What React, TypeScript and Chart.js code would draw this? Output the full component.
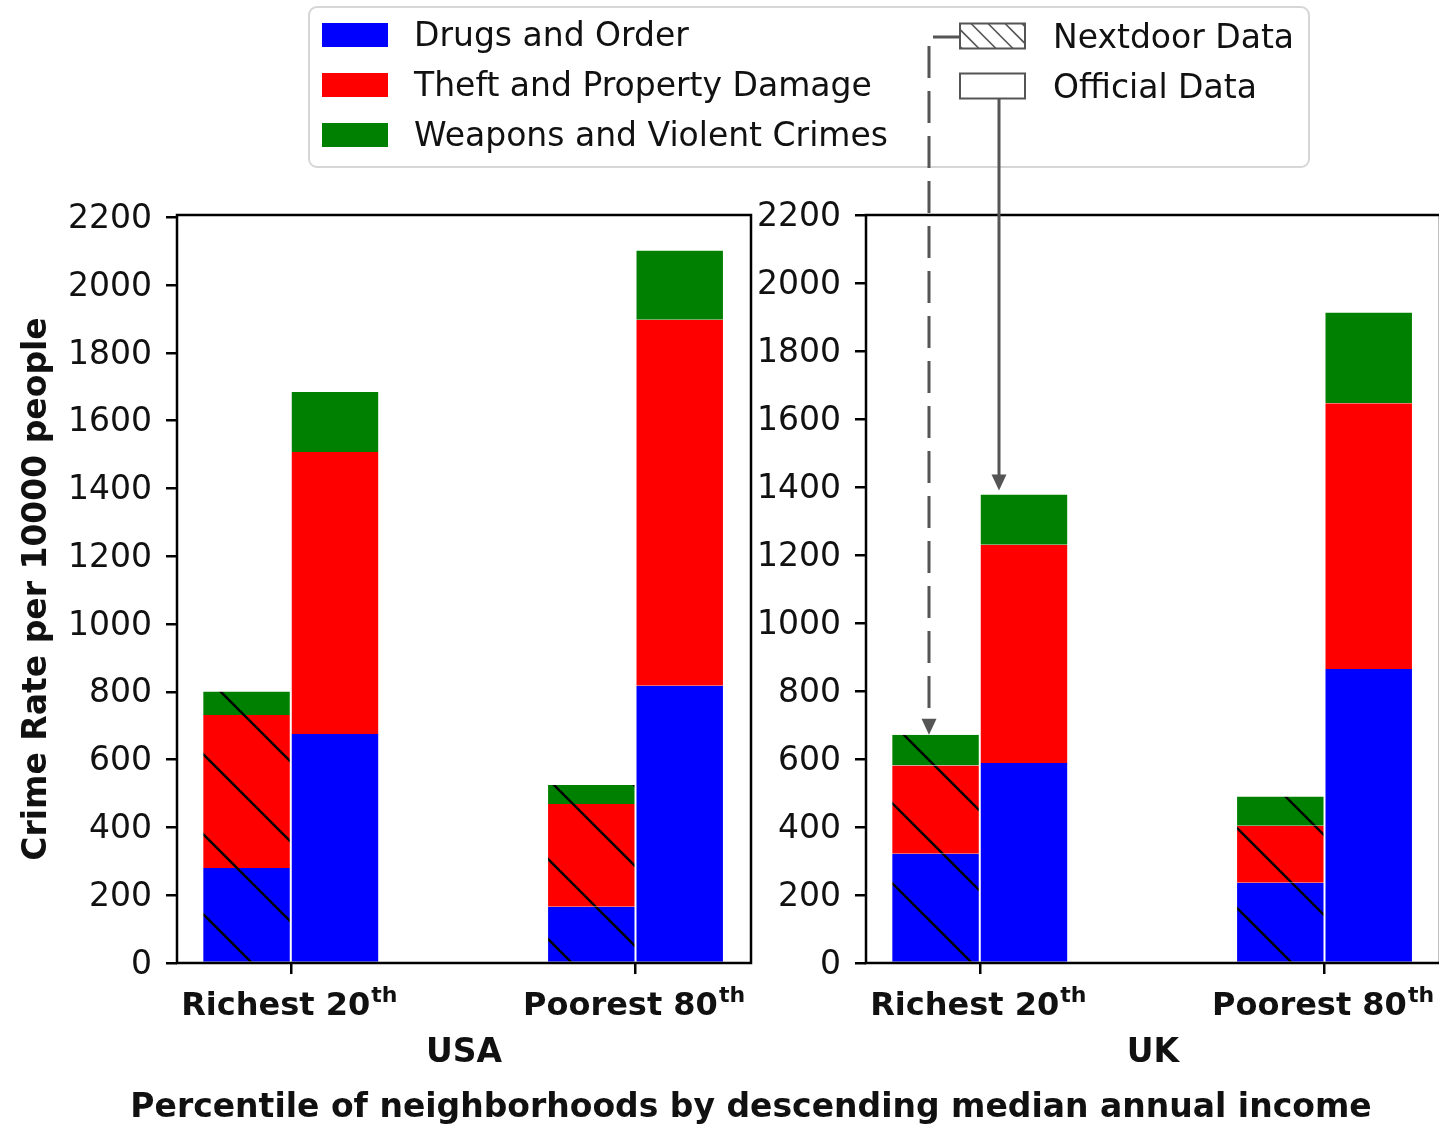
import React, { useEffect, useRef } from 'react';
import { Chart, registerables } from 'chart.js';

Chart.register(...registerables);

// ---------- data ----------
const categories = ['Richest 20', 'Poorest 80'];
const categorySup = ['th', 'th'];
const xTickValues = [0, 1];
const yTickValues = [0, 200, 400, 600, 800, 1000, 1200, 1400, 1600, 1800, 2000, 2200];
const seriesNames = ['Drugs and Order', 'Theft and Property Damage', 'Weapons and Violent Crimes'];
const seriesColors = ['#0000ff', '#ff0000', '#008000'];
const sourceNames = ['Nextdoor Data', 'Official Data'];
const panelNames = ['USA', 'UK'];
const yTitle = 'Crime Rate per 10000 people';
const xTitle = 'Percentile of neighborhoods by descending median annual income';

const usaNextdoorDrugs = [280, 166];
const usaNextdoorTheft = [452, 303];
const usaNextdoorWeapons = [69, 56];
const usaOfficialDrugs = [676, 818];
const usaOfficialTheft = [832, 1080];
const usaOfficialWeapons = [177, 204];

const ukNextdoorDrugs = [321, 236];
const ukNextdoorTheft = [260, 168];
const ukNextdoorWeapons = [90, 86];
const ukOfficialDrugs = [588, 865];
const ukOfficialTheft = [642, 781];
const ukOfficialWeapons = [148, 267];

const ukYMax = 2200;

// ---------- helpers ----------
const FONT = "'DejaVu Sans', sans-serif";
const TEXT = '#111';

function hatchPattern(ctx: CanvasRenderingContext2D, color: string): CanvasPattern | string {
  const t = document.createElement('canvas');
  t.width = 80;
  t.height = 80;
  const c = t.getContext('2d');
  if (!c) return color;
  c.fillStyle = color;
  c.fillRect(0, 0, 80, 80);
  c.strokeStyle = '#000';
  c.lineWidth = 2.4;
  for (const k of [-2, -1, 0, 1]) {
    c.beginPath();
    c.moveTo(-20, 71 + 80 * k - 20);
    c.lineTo(100, 71 + 80 * k + 100);
    c.stroke();
  }
  return ctx.createPattern(t, 'repeat') || color;
}

function totals(parts: number[][], i: number) {
  return parts.reduce((s, p) => s + p[i], 0);
}

function buildDatasets(ctx: CanvasRenderingContext2D, nd: number[][], off: number[][]) {
  const ds: any[] = [];
  for (let s = 0; s < seriesNames.length; s++) {
    ds.push({
      label: seriesNames[s] + ' / ' + sourceNames[0],
      stack: 'nextdoor',
      data: xTickValues.map((x, i) => ({ x, y: nd[s][i] })),
      backgroundColor: hatchPattern(ctx, seriesColors[s]),
      borderColor: 'rgba(255,255,255,0.9)',
      borderWidth: { left: 1, right: 1, top: 0, bottom: 0 },
      borderSkipped: false,
    });
    ds.push({
      label: seriesNames[s] + ' / ' + sourceNames[1],
      stack: 'official',
      data: xTickValues.map((x, i) => ({ x, y: off[s][i] })),
      backgroundColor: seriesColors[s],
      borderColor: 'rgba(255,255,255,0.9)',
      borderWidth: { left: 1, right: 1, top: 0, bottom: 0 },
      borderSkipped: false,
    });
  }
  return ds;
}

function drawCommon(chart: any, panel: string) {
  const ctx: CanvasRenderingContext2D = chart.ctx;
  const a = chart.chartArea;
  const xs = chart.scales.x;
  ctx.save();
  // frame
  ctx.strokeStyle = '#000';
  ctx.lineWidth = 2.5;
  ctx.strokeRect(a.left, a.top, a.right - a.left, a.bottom - a.top);
  // x tick labels with superscript
  ctx.fillStyle = TEXT;
  ctx.textBaseline = 'alphabetic';
  ctx.textAlign = 'left';
  xTickValues.forEach((v, i) => {
    const cx = xs.getPixelForValue(v) - 2;
    ctx.font = `bold 32px ${FONT}`;
    const w1 = ctx.measureText(categories[i]).width;
    ctx.font = `bold 22px ${FONT}`;
    const w2 = ctx.measureText(categorySup[i]).width;
    const start = cx - (w1 + w2) / 2;
    ctx.font = `bold 32px ${FONT}`;
    ctx.fillText(categories[i], start, 1015);
    ctx.font = `bold 22px ${FONT}`;
    ctx.fillText(categorySup[i], start + w1 + 1, 1002);
  });
  // panel name
  ctx.font = `bold 33px ${FONT}`;
  ctx.textAlign = 'center';
  ctx.fillText(panel, (a.left + a.right) / 2, 1062);
  ctx.restore();
}

function arrowHead(ctx: CanvasRenderingContext2D, x: number, tipY: number) {
  ctx.beginPath();
  ctx.moveTo(x, tipY);
  ctx.lineTo(x - 7.5, tipY - 16);
  ctx.lineTo(x + 7.5, tipY - 16);
  ctx.closePath();
  ctx.fill();
}

function drawLegendAndArrows(chart: any) {
  const ctx: CanvasRenderingContext2D = chart.ctx;
  const xs = chart.scales.x;
  const ys = chart.scales.y;
  ctx.save();
  // legend frame
  ctx.beginPath();
  (ctx as any).roundRect(309, 7, 1000, 160, 8);
  ctx.fillStyle = 'rgba(255,255,255,0.8)';
  ctx.fill();
  ctx.strokeStyle = '#d6d6d6';
  ctx.lineWidth = 2;
  ctx.stroke();

  ctx.font = `33px ${FONT}`;
  ctx.textBaseline = 'alphabetic';
  ctx.textAlign = 'left';
  seriesNames.forEach((name, i) => {
    const cy = 35 + 50 * i;
    ctx.fillStyle = seriesColors[i];
    ctx.fillRect(322, cy - 12, 66, 24);
    ctx.fillStyle = TEXT;
    ctx.fillText(name, 414, cy + 11);
  });
  // source patches
  const px = 960, pw = 65, ph = 25;
  sourceNames.forEach((name, i) => {
    const py = 23.5 + 50 * i;
    ctx.fillStyle = '#fff';
    ctx.fillRect(px, py, pw, ph);
    if (i === 0) {
      ctx.save();
      ctx.beginPath();
      ctx.rect(px, py, pw, ph);
      ctx.clip();
      ctx.strokeStyle = '#555';
      ctx.lineWidth = 1.6;
      for (let k = -40; k < pw + 10; k += 17) {
        ctx.beginPath();
        ctx.moveTo(px + k, py);
        ctx.lineTo(px + k + ph, py + ph);
        ctx.stroke();
      }
      ctx.restore();
    }
    ctx.strokeStyle = '#555';
    ctx.lineWidth = 2;
    ctx.strokeRect(px, py, pw, ph);
    ctx.fillStyle = TEXT;
    ctx.fillText(name, 1053, py + 24);
  });

  // arrows
  ctx.strokeStyle = '#555';
  ctx.fillStyle = '#555';
  ctx.lineWidth = 3;
  const ndTip = ys.getPixelForValue(totals([ukNextdoorDrugs, ukNextdoorTheft, ukNextdoorWeapons], 0));
  const offTip = ys.getPixelForValue(totals([ukOfficialDrugs, ukOfficialTheft, ukOfficialWeapons], 0)) - 4;
  const ndX = Math.round(xs.getPixelForValue(-0.146));
  const offX = Math.round(xs.getPixelForValue(0.057));
  // dashed
  ctx.setLineDash([32, 13]);
  ctx.lineDashOffset = 5;
  ctx.beginPath();
  ctx.moveTo(px, 37);
  ctx.lineTo(ndX, 37);
  ctx.lineTo(ndX, ndTip - 15);
  ctx.stroke();
  ctx.setLineDash([]);
  arrowHead(ctx, ndX, ndTip);
  // solid
  ctx.beginPath();
  ctx.moveTo(offX, 23.5 + 50 + ph);
  ctx.lineTo(offX, offTip - 15);
  ctx.stroke();
  arrowHead(ctx, offX, offTip);

  // overall x title
  ctx.fillStyle = TEXT;
  ctx.font = `bold 33px ${FONT}`;
  ctx.textAlign = 'center';
  ctx.fillText(xTitle, 751, 1117);
  ctx.restore();
}

function makeOptions(yMax: number, padding: any) {
  return {
    responsive: false,
    animation: false as const,
    devicePixelRatio: 1,
    layout: { padding },
    plugins: { legend: { display: false }, tooltip: { enabled: false } },
    datasets: { bar: { categoryPercentage: 0.513, barPercentage: 1 } },
    scales: {
      x: {
        type: 'linear' as const,
        min: -0.33,
        max: 1.335,
        offset: false,
        grid: { display: true, drawOnChartArea: false, drawTicks: true, tickLength: 11, color: '#000', lineWidth: 2.5, offset: false },
        border: { display: false },
        ticks: { display: true, callback: () => '', font: { family: FONT, size: 33 } },
        afterBuildTicks: (s: any) => { s.ticks = xTickValues.map((v) => ({ value: v })); },
        afterFit: (s: any) => { s.height = 40; },
      },
      y: {
        type: 'linear' as const,
        stacked: true,
        min: 0,
        max: yMax,
        grid: { display: true, drawOnChartArea: false, drawTicks: true, tickLength: 11, color: '#000', lineWidth: 2.5 },
        border: { display: false },
        ticks: { color: TEXT, font: { family: FONT, size: 33 }, padding: 14, labelOffset: 2, callback: (v: any) => String(v) },
        afterBuildTicks: (s: any) => { s.ticks = yTickValues.map((v) => ({ value: v })); },
        afterFit: (s: any) => { s.width = 170; },
      },
    },
  };
}

export default function App() {
  const usaRef = useRef<HTMLCanvasElement>(null);
  const ukRef = useRef<HTMLCanvasElement>(null);

  useEffect(() => {
    document.body.style.margin = '0';
    Chart.defaults.font.family = FONT;
    const uc = usaRef.current!;
    const kc = ukRef.current!;
    const uctx = uc.getContext('2d')!;
    const kctx = kc.getContext('2d')!;

    const usaND = [usaNextdoorDrugs, usaNextdoorTheft, usaNextdoorWeapons];
    const usaOff = [usaOfficialDrugs, usaOfficialTheft, usaOfficialWeapons];
    const ukND = [ukNextdoorDrugs, ukNextdoorTheft, ukNextdoorWeapons];
    const ukOff = [ukOfficialDrugs, ukOfficialTheft, ukOfficialWeapons];

    const usaMaxTotal = Math.max(
      ...xTickValues.map((_, i) => Math.max(totals(usaND, i), totals(usaOff, i)))
    );
    const usaYMax = usaMaxTotal * 1.05;

    const usaChart = new Chart(uctx, {
      type: 'bar',
      data: { datasets: buildDatasets(uctx, usaND, usaOff) },
      options: makeOptions(usaYMax, { left: 7, right: 688, top: 215, bottom: 121 }) as any,
      plugins: [
        {
          id: 'usaDecor',
          afterDraw: (chart: any) => {
            drawCommon(chart, panelNames[0]);
            const ctx: CanvasRenderingContext2D = chart.ctx;
            const a = chart.chartArea;
            ctx.save();
            ctx.translate(46, (a.top + a.bottom) / 2);
            ctx.rotate(-Math.PI / 2);
            ctx.font = `bold 33px ${FONT}`;
            ctx.fillStyle = TEXT;
            ctx.textAlign = 'center';
            ctx.textBaseline = 'alphabetic';
            ctx.fillText(yTitle, 0, 0);
            ctx.restore();
          },
        },
      ],
    });

    const ukChart = new Chart(kctx, {
      type: 'bar',
      data: { datasets: buildDatasets(kctx, ukND, ukOff) },
      options: makeOptions(ukYMax, { left: 696, right: 5, top: 215, bottom: 121 }) as any,
      plugins: [
        {
          id: 'ukDecor',
          afterDraw: (chart: any) => {
            drawCommon(chart, panelNames[1]);
            drawLegendAndArrows(chart);
          },
        },
      ],
    });

    return () => {
      usaChart.destroy();
      ukChart.destroy();
    };
  }, []);

  return (
    <div style={{ position: 'relative', width: 1439, height: 1124, overflow: 'hidden', background: '#fff' }}>
      <canvas ref={usaRef} width={1439} height={1124} style={{ position: 'absolute', left: 0, top: 0, width: 1439, height: 1124 }} />
      <canvas ref={ukRef} width={1445} height={1124} style={{ position: 'absolute', left: 0, top: 0, width: 1445, height: 1124 }} />
    </div>
  );
}
